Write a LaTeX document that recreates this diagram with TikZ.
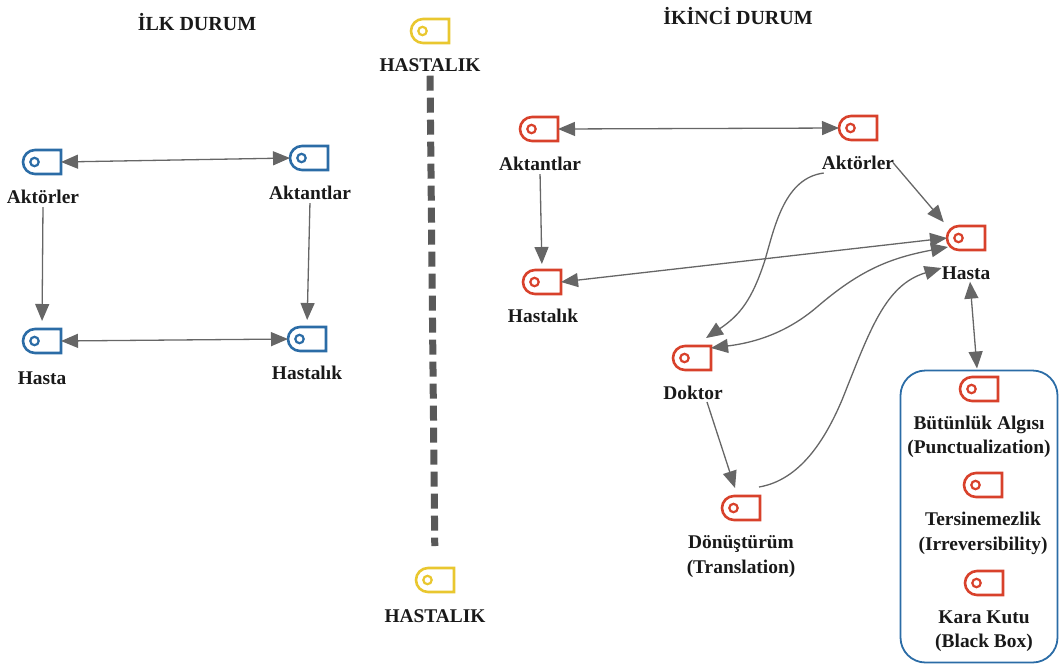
\documentclass[tikz,border=0pt]{standalone}
\usepackage{fontspec}
\setmainfont{Liberation Serif}
\usetikzlibrary{arrows.meta,calc}
\definecolor{tagblue}{HTML}{2B6CA6}
\definecolor{tagred}{HTML}{D8412B}
\definecolor{tagyellow}{HTML}{E9C72F}
\definecolor{linkgray}{HTML}{666666}
\tikzset{
  tagbox/.style={minimum width=38pt,minimum height=24pt,inner sep=0pt,outer sep=0pt},
  tagline/.style={line width=2.6pt,line join=miter},
  lab/.style={font=\fontsize{19.4pt}{24.5pt}\selectfont\bfseries,align=center,inner sep=1pt,text=black!90},
  ttl/.style={font=\fontsize{20pt}{24pt}\selectfont\bfseries,align=center,inner sep=1pt,text=black!90},
  link/.style={draw=linkgray,line width=1.3pt,-{Triangle[length=17pt,width=14pt]}},
  biglink/.style={draw=linkgray,line width=1.3pt,{Triangle[length=17pt,width=14pt]}-{Triangle[length=17pt,width=14pt]}}
}
\newcommand{\tagicon}[4]{%
  \node[tagbox] (#1) at (#2,#3) {};
  \draw[tagline,draw=#4] (#1.north east) -- (#1.south east) -- ($(#1.south west)+(12,0)$)
    arc[start angle=90,end angle=270,radius=12] -- cycle;
  \draw[line width=2.2pt,draw=#4] ($(#1)+(-7.5,0)$) circle[radius=4.2];
}
\begin{document}
\begin{tikzpicture}[x=1pt,y=-1pt]
\useasboundingbox (0,0) rectangle (1059,665);

% titles
\node[ttl] (t1) at (197,22.5) {İLK DURUM};
\node[ttl] (t2) at (738,16) {İKİNCİ DURUM};

% left group
\tagicon{bAktor}{42}{162}{tagblue}
\tagicon{bAktan}{309}{158}{tagblue}
\tagicon{bHasta}{42}{341}{tagblue}
\tagicon{bHast}{307}{339}{tagblue}
\node[lab] (lbAktor) at (43,197) {Aktörler};
\node[lab] (lbAktan) at (310,193) {Aktantlar};
\node[lab] (lbHasta) at (42,378) {Hasta};
\node[lab] (lbHast) at (307,373) {Hastalık};
\draw[biglink] (bAktor.east) -- (bAktan.west);
\draw[biglink] (bHasta.east) -- (bHast.west);
\draw[link,shorten <=2pt,shorten >=8pt] (lbAktor.south) -- (bHasta.north);
\draw[link,shorten <=2pt,shorten >=7pt] (lbAktan.south) -- (bHast.north);

% middle
\tagicon{yTop}{430}{31}{tagyellow}
\tagicon{yBot}{435}{580}{tagyellow}
\node[lab] (lyTop) at (430,65) {HASTALIK};
\node[lab] (lyBot) at (435,616) {HASTALIK};
\draw[draw=black!65,line width=7pt,dash pattern=on 15pt off 7pt,shorten <=3pt,shorten >=22pt] (lyTop.south) -- (yBot.north);

% right group
\tagicon{rAktan}{539}{129}{tagred}
\tagicon{rAktor}{858}{128}{tagred}
\tagicon{rHasta}{966}{238}{tagred}
\tagicon{rHast}{542}{282}{tagred}
\tagicon{rDok}{692}{358}{tagred}
\tagicon{rDon}{741}{508}{tagred}
\node[lab] (lrAktan) at (540,164) {Aktantlar};
\node[lab] (lrAktor) at (858,163) {Aktörler};
\node[lab] (lrHasta) at (966,273) {Hasta};
\node[lab] (lrHast) at (543,316) {Hastalık};
\node[lab] (lrDok) at (693,393) {Doktor};
\node[lab] (lrDon) at (741,556.5) {Dönüştürüm\\(Translation)};

% black box group
\node[draw=tagblue,line width=1.8pt,rounded corners=25pt,minimum width=157pt,minimum height=292pt,inner sep=0pt,outer sep=0pt] (bbox) at (979,516.5) {};
\tagicon{rBut}{979}{389}{tagred}
\tagicon{rTer}{983}{485}{tagred}
\tagicon{rKar}{984}{583}{tagred}
\node[lab] (lrBut) at (979,437) {Bütünlük Algısı\\(Punctualization)};
\node[lab] (lrTer) at (983,533.5) {Tersinemezlik\\(Irreversibility)};
\node[lab] (lrKar) at (984,631) {Kara Kutu\\(Black Box)};

% right connectors
\draw[biglink] (rAktan.east) -- (rAktor.west);
\draw[biglink] (rHast.east) -- (rHasta.west);
\draw[link,shorten <=2pt,shorten >=6pt] (lrAktan.south) -- (rHast.north);
\draw[link,shorten >=5pt] ($(lrAktor.east)+(-2,0)$) -- (rHasta.north west);
\draw[link] ($(lrAktor.south west)+(3,2)$) .. controls (785,178) and (775,225) .. (765,260)
   .. controls (752,300) and (740,315) .. ($(rDok.north east)+(-5,-8)$);
\draw[biglink] ($(rDok.east)+(0,-10)$) .. controls (760,342) and (790,330) .. (817,307)
   .. controls (860,270) and (890,258) .. ($(rHasta.west)+(1,9)$);
\draw[link] ($(lrDok.south)+(14,1)$) -- ($(rDon.north)+(-6,-8)$);
\draw[link] ($(rDon.north east)+(-1,-9)$) .. controls (800,480) and (825,440) .. (842,400)
   .. controls (870,330) and (885,285) .. ($(lrHasta.west)+(1,-5)$);
\draw[biglink] ($(lrHasta.south)+(4,1)$) -- ($(bbox.north)+(-2,-2)$);
\end{tikzpicture}
\end{document}
